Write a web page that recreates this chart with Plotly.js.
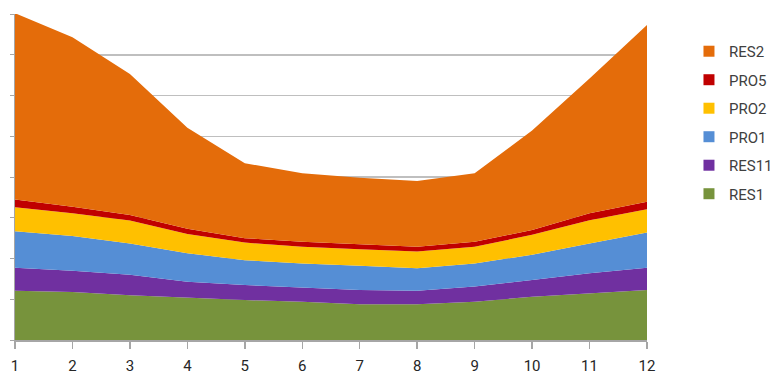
<!DOCTYPE html>
<html>
<head>
<meta charset="utf-8">
<script src="https://cdn.plot.ly/plotly-3.0.1.min.js"></script>
<style>html,body{margin:0;padding:0;background:#fff;}#chart{width:775px;height:376px;}</style>
</head>
<body>
<div id="chart"></div>
<script>
const months = [1,2,3,4,5,6,7,8,9,10,11,12];
const seriesNames = ["RES1","RES11","PRO1","PRO2","PRO5","RES2"];
const RES1  = [1.21,1.18,1.10,1.04,0.98,0.94,0.88,0.88,0.94,1.06,1.15,1.23];
const RES11 = [0.56,0.52,0.50,0.39,0.37,0.35,0.35,0.33,0.37,0.41,0.49,0.54];
const PRO1  = [0.90,0.85,0.77,0.70,0.61,0.59,0.59,0.55,0.57,0.62,0.73,0.87];
const PRO2  = [0.59,0.56,0.56,0.47,0.43,0.41,0.41,0.41,0.41,0.49,0.57,0.57];
const PRO5  = [0.19,0.16,0.14,0.13,0.11,0.12,0.12,0.12,0.12,0.12,0.17,0.18];
const RES2  = [4.57,4.16,3.46,2.48,1.84,1.68,1.63,1.61,1.68,2.44,3.31,4.34];
const seriesValues = [RES1,RES11,PRO1,PRO2,PRO5,RES2];
const colors = ["#77933C","#7030A0","#558ED5","#FFC000","#C00000","#E46C0A"];

const traces = [];
seriesNames.forEach((n,i)=>{
  traces.push({
    type:"scatter", mode:"lines", x:months, y:seriesValues[i], name:n,
    stackgroup:"one", line:{width:0, color:colors[i]}, fillcolor:colors[i],
    showlegend:false, hoverinfo:"x+y+name"
  });
});
// legend entries (square swatches), top = RES2
for (let i = seriesNames.length-1; i >= 0; i--) {
  traces.push({
    type:"scatter", mode:"markers", x:[null], y:[null], name:seriesNames[i],
    legendgroup:seriesNames[i],
    marker:{symbol:"square", size:11, color:colors[i]}, showlegend:true
  });
}

const layout = {
  width:775, height:376,
  margin:{l:15, r:128, t:14, b:36},
  paper_bgcolor:"#fff", plot_bgcolor:"#fff",
  font:{family:"Roboto, 'Liberation Sans', sans-serif", color:"#404040"},
  xaxis:{
    range:[1,12], tickmode:"array", tickvals:months, ticktext:months.map(String),
    showgrid:false, zeroline:false, showline:true, linecolor:"#A6A6A6", linewidth:1.5,
    ticks:"outside", ticklen:7, tickcolor:"#A6A6A6", tickwidth:1.5,
    tickfont:{size:15, color:"#262626"}, ticklabelstandoff:4, fixedrange:true
  },
  yaxis:{
    range:[0,8], dtick:1, tick0:0, showticklabels:false,
    showgrid:true, gridcolor:"#BFBFBF", gridwidth:1.5, zeroline:false,
    showline:true, linecolor:"#A6A6A6", linewidth:1.5,
    ticks:"outside", ticklen:4, tickcolor:"#A6A6A6", fixedrange:true
  },
  legend:{
    xref:"container", yref:"container", x:0.889, y:0.907, xanchor:"left", yanchor:"top",
    traceorder:"grouped", tracegroupgap:6, itemwidth:30,
    font:{size:15, color:"#404040"}, bgcolor:"rgba(0,0,0,0)"
  },
  showlegend:true
};
Plotly.newPlot("chart", traces, layout, {displayModeBar:false, staticPlot:true});
</script>
</body>
</html>
